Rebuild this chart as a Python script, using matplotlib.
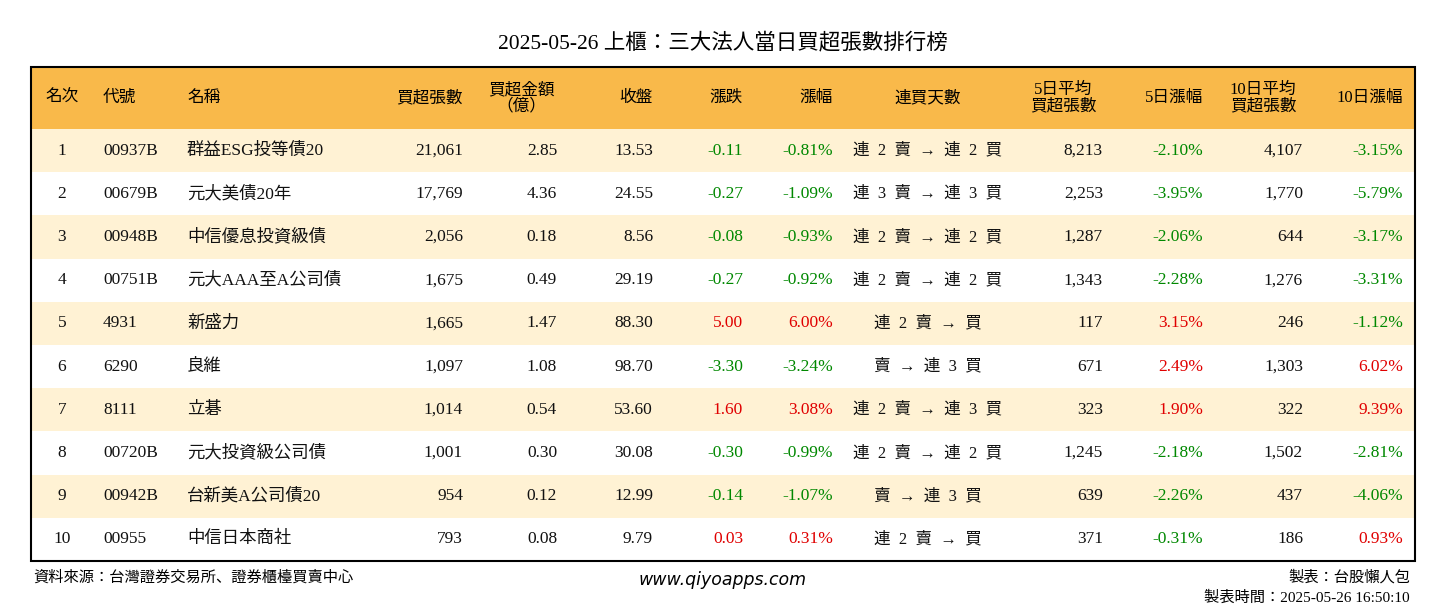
import matplotlib
matplotlib.use("Agg")
import matplotlib.pyplot as plt
from matplotlib.patches import Rectangle
from matplotlib import font_manager

cjk = [f.name for f in font_manager.fontManager.ttflist if "CJK" in f.name]
pref = ["Noto Sans CJK TC", "Noto Sans CJK JP", "Noto Sans CJK SC", "Noto Sans CJK KR"]
cjk_names = [p for p in pref if p in cjk] + sorted(set(cjk) - set(pref))
plt.rcParams["font.family"] = ["Liberation Serif"] + cjk_names[:1] + ["DejaVu Sans"]

title = "2025-05-26 上櫃：三大法人當日買超張數排行榜"
ranks = [1, 2, 3, 4, 5, 6, 7, 8, 9, 10]
codes = ["00937B", "00679B", "00948B", "00751B", "4931", "6290", "8111", "00720B", "00942B", "00955"]
names = ["群益ESG投等債20", "元大美債20年", "中信優息投資級債", "元大AAA至A公司債", "新盛力", "良維", "立碁",
         "元大投資級公司債", "台新美A公司債20", "中信日本商社"]
net_buy = [21061, 17769, 2056, 1675, 1665, 1097, 1014, 1001, 954, 793]
amount = [2.85, 4.36, 0.18, 0.49, 1.47, 1.08, 0.54, 0.30, 0.12, 0.08]
close = [13.53, 24.55, 8.56, 29.19, 88.30, 98.70, 53.60, 30.08, 12.99, 9.79]
change = [-0.11, -0.27, -0.08, -0.27, 5.00, -3.30, 1.60, -0.30, -0.14, 0.03]
pct = [-0.81, -1.09, -0.93, -0.92, 6.00, -3.24, 3.08, -0.99, -1.07, 0.31]
streak = ["連 2 賣 → 連 2 買", "連 3 賣 → 連 3 買", "連 2 賣 → 連 2 買", "連 2 賣 → 連 2 買", "連 2 賣 → 買",
          "賣 → 連 3 買", "連 2 賣 → 連 3 買", "連 2 賣 → 連 2 買", "賣 → 連 3 買", "連 2 賣 → 買"]
avg5 = [8213, 2253, 1287, 1343, 117, 671, 323, 1245, 639, 371]
pct5 = [-2.10, -3.95, -2.06, -2.28, 3.15, 2.49, 1.90, -2.18, -2.26, -0.31]
avg10 = [4107, 1770, 644, 1276, 246, 1303, 322, 1502, 437, 186]
pct10 = [-3.15, -5.79, -3.17, -3.31, -1.12, 6.02, 9.39, -2.81, -4.06, 0.93]

W, H = 1446, 612
fig = plt.figure(figsize=(W / 100, H / 100), dpi=100)
ax = fig.add_axes([0, 0, 1, 1])
ax.set_xlim(0, W); ax.set_ylim(H, 0); ax.axis("off")

GREEN, RED, BLACK = "#008800", "#e00000", "#111111"
FS = 12.5
x0, x1, ytop, yhead, ybot = 31, 1415, 67, 129, 561
rh = (ybot - yhead) / 10

ax.text(W / 2, 43, title, ha="center", va="center", fontsize=15.5)
ax.add_patch(Rectangle((x0, ytop), x1 - x0, yhead - ytop, color="#f9b94a", lw=0))
for i in range(10):
    if i % 2 == 0:
        ax.add_patch(Rectangle((x0, yhead + i * rh), x1 - x0, rh, color="#fff2d4", lw=0))
ax.add_patch(Rectangle((x0, ytop), x1 - x0, ybot - ytop, fill=False, ec="black", lw=1.5))

hy = (ytop + yhead) / 2
headers = [(62, "名次", "center"), (103, "代號", "left"), (187, "名稱", "left"), (463, "買超張數", "right"),
           (521, "買超金額\n（億）", "center"), (653, "收盤", "right"), (743, "漲跌", "right"),
           (833, "漲幅", "right"), (928, "連買天數", "center"), (1063, "5日平均\n買超張數", "center"),
           (1203, "5日漲幅", "right"), (1263, "10日平均\n買超張數", "center"), (1403, "10日漲幅", "right")]
for x, t, ha in headers:
    ax.text(x, hy, t, ha=ha, va="center", fontsize=12, linespacing=1.0, multialignment="center")

def col(v):
    return GREEN if v < 0 else RED

for i in range(10):
    y = yhead + (i + 0.5) * rh
    ax.text(62, y, str(ranks[i]), ha="center", va="center", fontsize=FS, color=BLACK)
    ax.text(103, y, codes[i], ha="left", va="center", fontsize=FS, color=BLACK)
    ax.text(187, y, names[i], ha="left", va="center", fontsize=FS, color=BLACK)
    ax.text(463, y, f"{net_buy[i]:,}", ha="right", va="center", fontsize=FS, color=BLACK)
    ax.text(557, y, f"{amount[i]:.2f}", ha="right", va="center", fontsize=FS, color=BLACK)
    ax.text(653, y, f"{close[i]:.2f}", ha="right", va="center", fontsize=FS, color=BLACK)
    ax.text(743, y, f"{change[i]:.2f}", ha="right", va="center", fontsize=FS, color=col(change[i]))
    ax.text(833, y, f"{pct[i]:.2f}%", ha="right", va="center", fontsize=FS, color=col(pct[i]))
    ax.text(928, y, streak[i].replace(" ", "  "), ha="center", va="center",
            fontsize=12, color=BLACK)
    ax.text(1103, y, f"{avg5[i]:,}", ha="right", va="center", fontsize=FS, color=BLACK)
    ax.text(1203, y, f"{pct5[i]:.2f}%", ha="right", va="center", fontsize=FS, color=col(pct5[i]))
    ax.text(1303, y, f"{avg10[i]:,}", ha="right", va="center", fontsize=FS, color=BLACK)
    ax.text(1403, y, f"{pct10[i]:.2f}%", ha="right", va="center", fontsize=FS, color=col(pct10[i]))

ax.text(33, 577, "資料來源：台灣證券交易所、證券櫃檯買賣中心", ha="left", va="center", fontsize=11)
ax.text(723, 580, "www.qiyoapps.com", ha="center", va="center", fontsize=12.5, style="italic",
        family="DejaVu Sans")
ax.text(1410, 577, "製表：台股懶人包", ha="right", va="center", fontsize=11)
ax.text(1410, 598, "製表時間：2025-05-26 16:50:10", ha="right", va="center", fontsize=11)

fig.savefig("out.png", dpi=100)
